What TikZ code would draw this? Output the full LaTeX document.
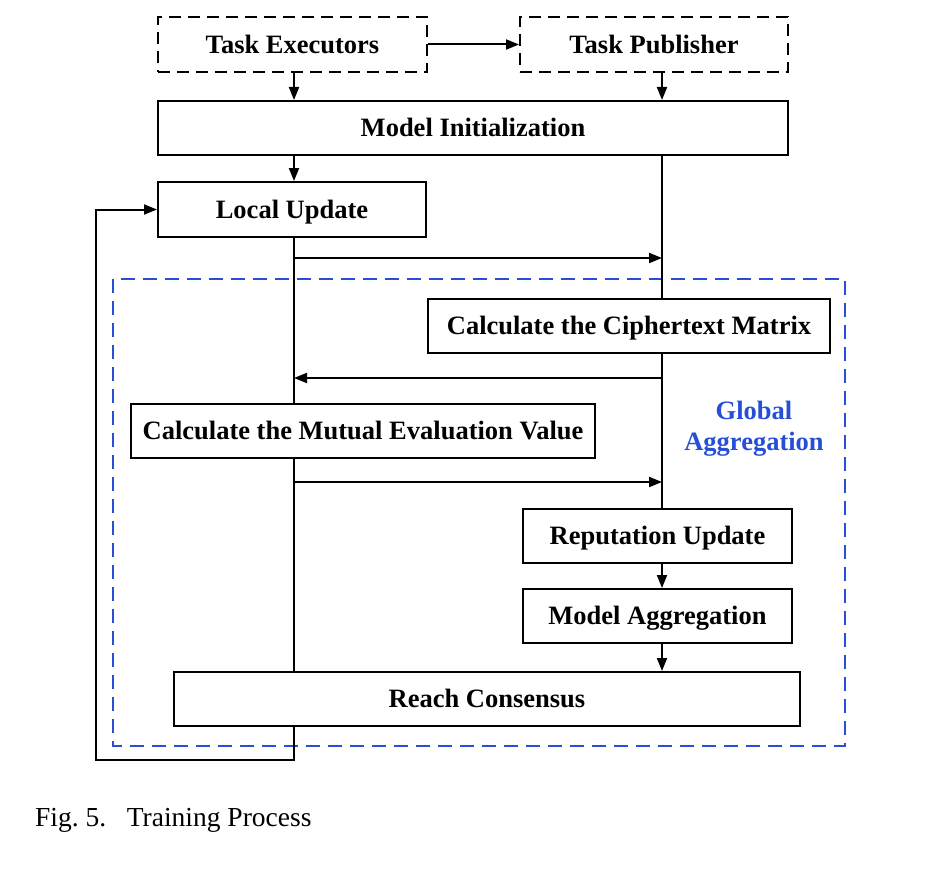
\documentclass[tikz,border=0pt]{standalone}
\usepackage{fontspec}
\setmainfont{Liberation Serif}
\usetikzlibrary{arrows.meta}
\definecolor{gblue}{RGB}{38,78,215}
\tikzset{
  box/.style={draw, line width=2pt, inner sep=0pt, text height=20pt, text depth=2.4pt, font=\fontsize{26.5}{31}\selectfont\bfseries},
  dbox/.style={box, dash pattern=on 12pt off 7pt},
  link/.style={line width=2pt},
  arr/.style={link, -{Triangle[length=13pt,width=10pt]}},
}
\begin{document}
\begin{tikzpicture}[x=1pt,y=-1pt]
\useasboundingbox (0,0) rectangle (926,880);
\coordinate (L) at (294,0);
\coordinate (R) at (662,0);
% global aggregation frame
\draw[gblue, line width=2pt, dash pattern=on 14pt off 8pt] (113,279) rectangle (845,746);
\node[text=gblue, align=center, font=\fontsize{26.5}{31}\selectfont\bfseries] (ga) at (754,429) {Global\\Aggregation};
% nodes
\node[dbox, minimum width=269pt, minimum height=55pt] (te) at (292.5,44.5) {Task Executors};
\node[dbox, minimum width=268pt, minimum height=55pt] (tp) at (654,44.5) {Task Publisher};
\node[box, minimum width=630pt, minimum height=54pt] (mi) at (473,128) {Model Initialization};
\node[box, minimum width=268pt, minimum height=55pt] (lu) at (292,209.5) {Local Update};
\node[box, minimum width=402pt, minimum height=54pt] (cm) at (629,326) {Calculate the Ciphertext Matrix};
\node[box, minimum width=464pt, minimum height=54pt] (mev) at (363,431) {Calculate the Mutual Evaluation Value};
\node[box, minimum width=269pt, minimum height=54pt] (ru) at (657.5,536) {Reputation Update};
\node[box, minimum width=269pt, minimum height=54pt] (ma) at (657.5,616) {Model Aggregation};
\node[box, minimum width=626pt, minimum height=54pt] (rc) at (487,699) {Reach Consensus};
% connectors
\draw[arr] (te.east) -- (tp.west);
\draw[arr] (te.south -| L) -- (mi.north -| L);
\draw[arr] (tp.south -| R) -- (mi.north -| R);
\draw[arr] (mi.south -| L) -- (lu.north -| L);
\draw[link] (mi.south -| R) -- (cm.north -| R);
\draw[link] (lu.south -| L) -- (mev.north -| L);
\draw[link] (mev.south -| L) -- (rc.north -| L);
\coordinate (a1) at (294,258);
\coordinate (a2) at (662,378);
\coordinate (a3) at (294,482);
\draw[arr] (a1) -- (a1 -| R);
\draw[link] (cm.south -| R) -- (ru.north -| R);
\draw[arr] (a2) -- (a2 -| L);
\draw[arr] (a3) -- (a3 -| R);
\draw[arr] (ru.south -| R) -- (ma.north -| R);
\draw[arr] (ma.south -| R) -- (rc.north -| R);
\coordinate (fb1) at (294,760);
\coordinate (fb2) at (96,760);
\draw[arr] (rc.south -| L) -- (fb1) -- (fb2) |- (lu.west);
% caption
\node[anchor=base west, inner sep=0pt, font=\fontsize{27.5}{32}\selectfont] (cap) at (35,826) {Fig.~5.\hspace{0.75em}Training Process};
\end{tikzpicture}
\end{document}
